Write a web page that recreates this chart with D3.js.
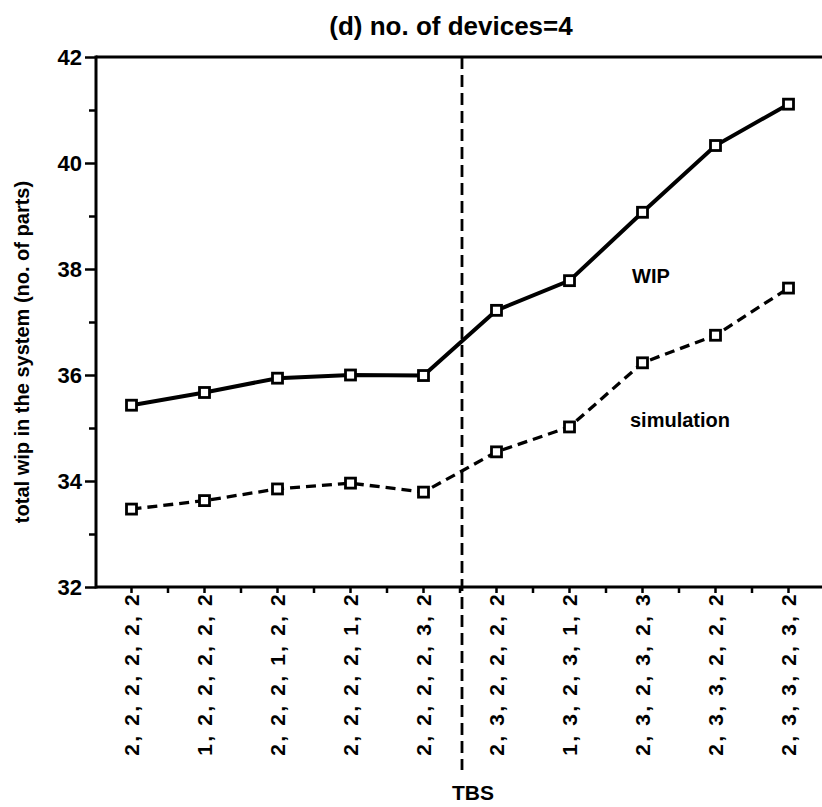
<!DOCTYPE html>
<html lang="en">
  <head>
    <meta charset="UTF-8" />
    <title>(d) no. of devices=4</title>
    <style>
      body {
        margin: 0;
        background: #fff;
      }
      svg {
        display: block;
        font-family: "Liberation Sans", Arial, Helvetica, sans-serif;
        font-weight: bold;
      }
      .axis text {
        font-family: "Liberation Sans", Arial, Helvetica, sans-serif;
        font-weight: bold;
        fill: #000;
      }
      .axis line {
        stroke: #000;
        stroke-width: 2.5px;
      }
    </style>
  </head>
  <body>
    <div id="chart"></div>

    <script src="https://d3js.org/d3.v7.min.js"></script>
    <script>
      // TBS combinations along the x axis
      const categories = [
        "2, 2, 2, 2, 2, 2",
        "1, 2, 2, 2, 2, 2",
        "2, 2, 2, 1, 2, 2",
        "2, 2, 2, 2, 1, 2",
        "2, 2, 2, 2, 3, 2",
        "2, 3, 2, 2, 2, 2",
        "1, 3, 2, 3, 1, 2",
        "2, 3, 2, 3, 2, 3",
        "2, 3, 3, 2, 2, 2",
        "2, 3, 3, 2, 3, 2"
      ];
      // total wip, analytical model (solid) and simulation (dashed)
      const wip = [35.43, 35.67, 35.94, 36.0, 35.99, 37.22, 37.78, 39.07, 40.33, 41.11];
      const simulation = [33.47, 33.63, 33.85, 33.96, 33.79, 34.55, 35.02, 36.23, 36.75, 37.64];
      const yTicks = [32, 34, 36, 38, 40, 42];
      const yMinorTicks = [33, 35, 37, 39, 41];

      const width = 822;
      const height = 807;
      const plotLeft = 96, plotTop = 57, plotBottom = 587, plotRight = 822;

      const svg = d3
        .select("#chart")
        .append("svg")
        .attr("width", width)
        .attr("height", height);

      const x = d3.scaleBand().domain(categories).range([95, 825]);
      const y = d3.scaleLinear().domain([32, 42]).range([plotBottom, plotTop]);
      const cx = (c) => x(c) + x.bandwidth() / 2;

      // y axis: major and minor ticks
      const yAxis = svg
        .append("g")
        .attr("class", "axis")
        .attr("transform", "translate(" + plotLeft + ",0)")
        .call(d3.axisLeft(y).tickValues(yTicks).tickSize(11).tickPadding(3).tickFormat(d3.format("d")));
      yAxis.select(".domain").remove();
      yAxis.selectAll("text").style("font-size", "22px");

      const yMinor = svg
        .append("g")
        .attr("class", "axis")
        .attr("transform", "translate(" + plotLeft + ",0)")
        .call(d3.axisLeft(y).tickValues(yMinorTicks).tickSize(7).tickFormat(""));
      yMinor.select(".domain").remove();

      // x axis ticks at categories, labels drawn rotated
      const xAxis = svg
        .append("g")
        .attr("class", "axis")
        .attr("transform", "translate(0," + plotBottom + ")")
        .call(d3.axisBottom(x).tickSize(6).tickFormat(""));
      xAxis.select(".domain").remove();

      // minor ticks between categories
      svg
        .append("g")
        .selectAll("line")
        .data(categories.slice(1))
        .join("line")
        .attr("x1", (d) => x(d))
        .attr("x2", (d) => x(d))
        .attr("y1", plotBottom)
        .attr("y2", plotBottom + 6)
        .attr("stroke", "#000")
        .attr("stroke-width", 2.5);

      svg
        .append("g")
        .selectAll("text")
        .data(categories)
        .join("text")
        .attr("transform", (d) => "translate(" + cx(d) + "," + (plotBottom + 5) + ") rotate(-90)")
        .attr("text-anchor", "end")
        .attr("dy", "0.36em")
        .style("font-size", "21px")
        .style("letter-spacing", "2.2px")
        .text((d) => d);

      // frame: left, top and bottom lines
      const frame = svg.append("g").attr("stroke", "#000").attr("stroke-width", 3);
      frame.append("line").attr("x1", plotLeft).attr("x2", plotLeft).attr("y1", plotTop - 1.5).attr("y2", plotBottom + 1.5);
      frame.append("line").attr("x1", plotLeft).attr("x2", plotRight).attr("y1", plotTop).attr("y2", plotTop);
      frame.append("line").attr("x1", plotLeft).attr("x2", plotRight).attr("y1", plotBottom).attr("y2", plotBottom);

      // TBS divider
      const divX = x(categories[5]) + 2;
      svg
        .append("line")
        .attr("x1", divX)
        .attr("x2", divX)
        .attr("y1", plotTop)
        .attr("y2", 770)
        .attr("stroke", "#000")
        .attr("stroke-width", 2.8)
        .attr("stroke-dasharray", "12,6");

      const line = d3
        .line()
        .x((d, i) => cx(categories[i]))
        .y((d) => y(d));

      svg
        .append("path")
        .datum(simulation)
        .attr("fill", "none")
        .attr("stroke", "#000")
        .attr("stroke-width", 3.3)
        .attr("stroke-dasharray", "10,6")
        .attr("d", line);

      svg
        .append("path")
        .datum(wip)
        .attr("fill", "none")
        .attr("stroke", "#000")
        .attr("stroke-width", 4)
        .attr("d", line);

      // open square markers
      const s = 10;
      [wip, simulation].forEach((series) => {
        svg
          .append("g")
          .selectAll("rect")
          .data(series)
          .join("rect")
          .attr("x", (d, i) => cx(categories[i]) - s / 2)
          .attr("y", (d) => y(d) - s / 2)
          .attr("width", s)
          .attr("height", s)
          .attr("fill", "#fff")
          .attr("stroke", "#000")
          .attr("stroke-width", 2.8);
      });

      // texts
      svg
        .append("text")
        .attr("x", 451)
        .attr("y", 35)
        .attr("text-anchor", "middle")
        .style("font-size", "26px")
        .text("(d) no. of devices=4");

      svg
        .append("text")
        .attr("transform", "translate(29,352) rotate(-90)")
        .attr("text-anchor", "middle")
        .style("font-size", "20px")
        .text("total wip in the system (no. of parts)");

      svg
        .append("text")
        .attr("x", 473)
        .attr("y", 800)
        .attr("text-anchor", "middle")
        .style("font-size", "21px")
        .text("TBS");

      svg
        .append("text")
        .attr("x", 632)
        .attr("y", 283)
        .style("font-size", "20px")
        .text("WIP");

      svg
        .append("text")
        .attr("x", 630)
        .attr("y", 427)
        .style("font-size", "20px")
        .text("simulation");
    </script>
  </body>
</html>
